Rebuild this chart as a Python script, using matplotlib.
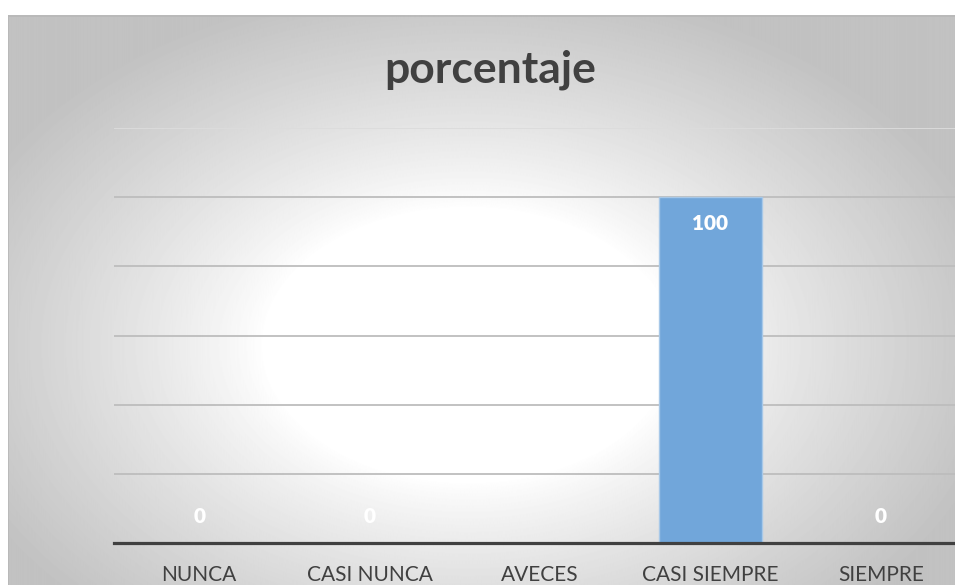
import numpy as np
import matplotlib.pyplot as plt

categorias = ["NUNCA", "CASI NUNCA", "AVECES", "CASI SIEMPRE", "SIEMPRE"]
porcentaje = [0, 0, np.nan, 100, 0]
titulo = "porcentaje"

plt.rcParams['font.family'] = ['Lato', 'DejaVu Sans']

fig = plt.figure(figsize=(9.55, 5.85), dpi=100)

## Fondo con degradado radial (como Excel)
bg = fig.add_axes([8 / 955, 0, 1, (585 - 15) / 585])
bg.set_axis_off()
h, w = 570, 947
yy, xx = np.mgrid[0:h, 0:w]
d = np.sqrt(((xx - 455) / 560.0) ** 2 + ((yy - 330) / 380.0) ** 2)
g = 1 - 0.24 * np.clip((d - 0.36) / 0.6, 0, 1) ** 0.85
bg.imshow(g, cmap='gray', vmin=0, vmax=1, aspect='auto', extent=[0, 1, 0, 1])
bg.set_xlim(0, 1)
bg.set_ylim(0, 1)
bg.plot([0, 1], [0.999, 0.999], color='#b8b8b8', lw=1.2)
bg.plot([0.0005, 0.0005], [0, 1], color='#b8b8b8', lw=1.2)

ax = fig.add_axes([114 / 955, 42 / 585, 852 / 955, 415 / 585])
ax.patch.set_alpha(0)
x = np.arange(len(categorias))
alturas = np.nan_to_num(porcentaje)
ax.bar(x, alturas, width=0.6, color='#71A6DA', edgecolor='#a7c8e8', linewidth=1, zorder=3)

ax.set_xlim(-0.5, len(categorias) - 0.5)
ax.set_ylim(0, 120)
for v in [20, 40, 60, 80, 100]:
    ax.axhline(v, color='#bdbdbd', lw=1.3, zorder=1)
ax.axhline(120, color='#dcdcdc', lw=1.3, zorder=1)

for s in ['top', 'right', 'left']:
    ax.spines[s].set_visible(False)
ax.spines['bottom'].set_color('#404040')
ax.spines['bottom'].set_linewidth(2.3)
ax.spines['bottom'].set_zorder(4)
ax.set_yticks([])
ax.set_xticks(x)
ax.set_xticklabels(categorias, fontsize=15, color='#404040')
ax.tick_params(axis='x', length=0, pad=16)

## Etiquetas de datos
for xi, v in zip(x, porcentaje):
    if np.isnan(v):
        continue
    off = -19 if v > 0 else 19
    ax.annotate("%d" % v, (xi, v), xytext=(0, off), textcoords='offset points',
                ha='center', va='center', color='white', fontsize=15,
                fontweight='heavy', zorder=5)

fig.text(490 / 955, (585 - 70) / 585, titulo, ha='center', va='center',
         fontsize=32, fontweight='bold', color='#404040')

plt.savefig("out.png", dpi=100)
